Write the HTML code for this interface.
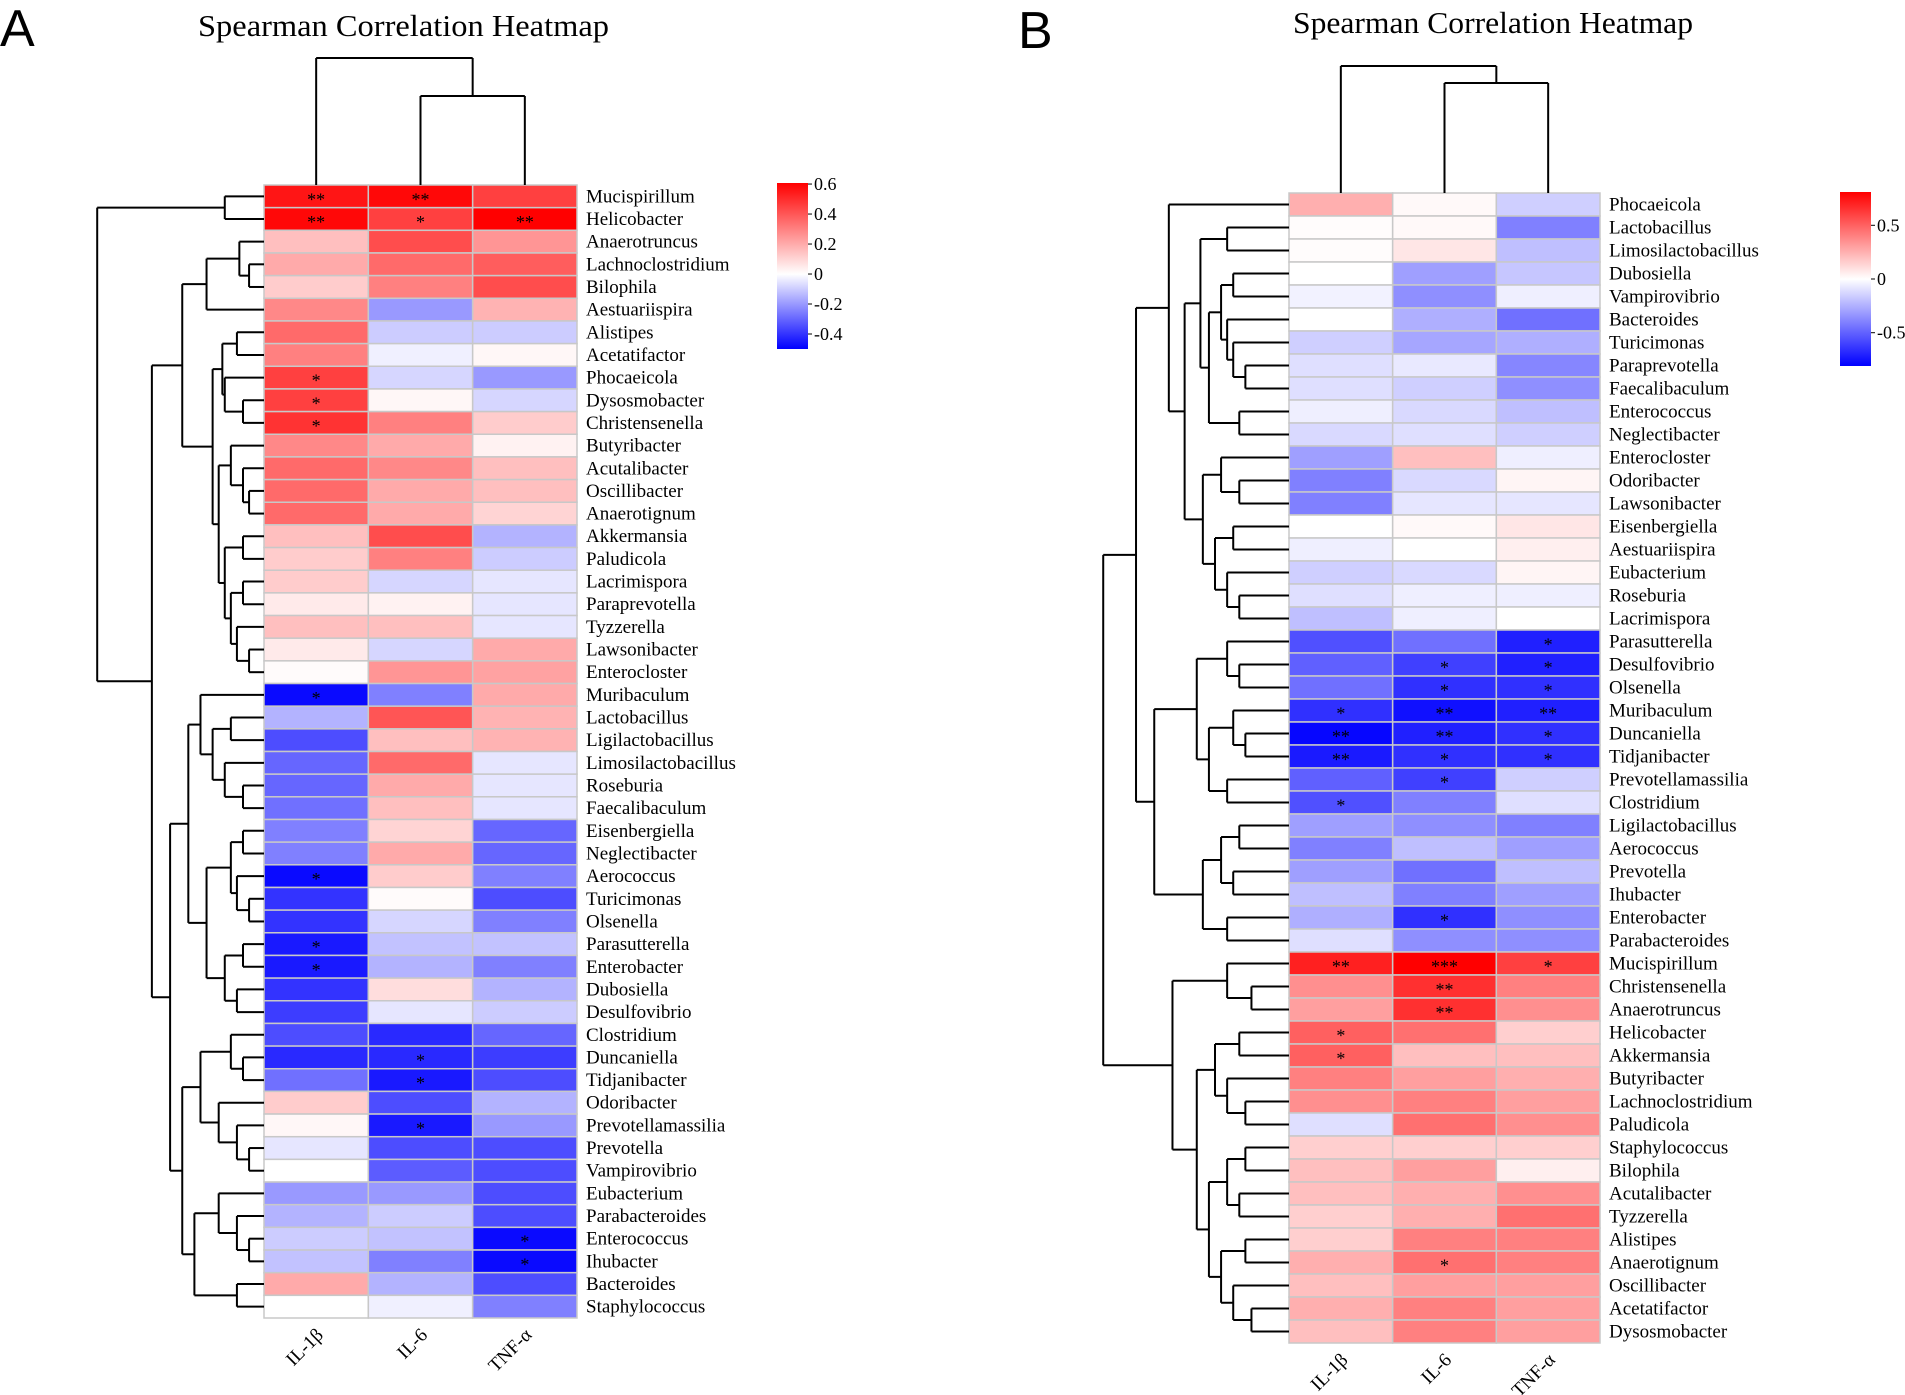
<!DOCTYPE html>
<html><head><meta charset="utf-8"><style>
html,body{margin:0;padding:0;background:#fff;}
svg{display:block;font-family:"Liberation Serif",serif;}
.lbl{font-size:19px;fill:#000;}
.tick{font-size:18px;fill:#000;}
</style></head><body>
<svg id="fig" width="1905" height="1395" viewBox="0 0 1905 1395" xmlns="http://www.w3.org/2000/svg">
<text x="0" y="46" font-family="Liberation Sans, sans-serif" font-size="52">A</text>
<text x="1018" y="48" font-family="Liberation Sans, sans-serif" font-size="52">B</text>
<text x="198" y="36" font-size="31" textLength="411" lengthAdjust="spacingAndGlyphs">Spearman Correlation Heatmap</text>
<text x="1293" y="33" font-size="31" textLength="400" lengthAdjust="spacingAndGlyphs">Spearman Correlation Heatmap</text>
<g id="pa"></g>
<g id="pb"></g>
</svg>
<script>
const cols = ["IL-1β","IL-6","TNF-α"];
const rowsA = ["Mucispirillum","Helicobacter","Anaerotruncus","Lachnoclostridium","Bilophila","Aestuariispira","Alistipes","Acetatifactor","Phocaeicola","Dysosmobacter","Christensenella","Butyribacter","Acutalibacter","Oscillibacter","Anaerotignum","Akkermansia","Paludicola","Lacrimispora","Paraprevotella","Tyzzerella","Lawsonibacter","Enterocloster","Muribaculum","Lactobacillus","Ligilactobacillus","Limosilactobacillus","Roseburia","Faecalibaculum","Eisenbergiella","Neglectibacter","Aerococcus","Turicimonas","Olsenella","Parasutterella","Enterobacter","Dubosiella","Desulfovibrio","Clostridium","Duncaniella","Tidjanibacter","Odoribacter","Prevotellamassilia","Prevotella","Vampirovibrio","Eubacterium","Parabacteroides","Enterococcus","Ihubacter","Bacteroides","Staphylococcus"];
const il1bA = [0.55,0.58,0.15,0.2,0.12,0.28,0.35,0.3,0.45,0.45,0.48,0.28,0.35,0.35,0.35,0.15,0.12,0.12,0.05,0.15,0.05,0.01,-0.48,-0.15,-0.35,-0.3,-0.3,-0.28,-0.25,-0.25,-0.48,-0.4,-0.4,-0.45,-0.45,-0.4,-0.38,-0.35,-0.42,-0.28,0.12,0.02,-0.05,0.0,-0.2,-0.15,-0.1,-0.12,0.2,0.0];
const il6A = [0.58,0.45,0.42,0.35,0.3,-0.2,-0.1,-0.03,-0.08,0.02,0.3,0.2,0.28,0.2,0.2,0.42,0.3,-0.08,0.03,0.15,-0.08,0.25,-0.25,0.4,0.15,0.35,0.2,0.15,0.1,0.2,0.12,0.01,-0.08,-0.12,-0.15,0.08,-0.05,-0.42,-0.42,-0.45,-0.35,-0.45,-0.35,-0.32,-0.2,-0.1,-0.12,-0.25,-0.15,-0.03];
const tnfA = [0.45,0.6,0.25,0.38,0.42,0.18,-0.1,0.02,-0.2,-0.08,0.12,0.03,0.15,0.15,0.1,-0.15,-0.1,-0.05,-0.05,-0.05,0.2,0.22,0.2,0.18,0.18,-0.05,-0.05,-0.05,-0.3,-0.3,-0.25,-0.35,-0.25,-0.12,-0.25,-0.15,-0.1,-0.3,-0.38,-0.35,-0.15,-0.2,-0.35,-0.35,-0.35,-0.35,-0.48,-0.48,-0.35,-0.25];
const starsA = {"0-0":"**","0-1":"**","1-0":"**","1-1":"*","1-2":"**","8-0":"*","9-0":"*","10-0":"*","22-0":"*","30-0":"*","33-0":"*","34-0":"*","38-1":"*","39-1":"*","41-1":"*","46-2":"*","47-2":"*"};
const treeA = [80,[185,0,1],[125,[150,[170,[197,2,[205,3,4]],5],[175,[183,[195,6,7],[185,8,[200,9,10]]],[180,[190,11,[200,12,[205,13,14]]],[185,[200,15,16],[190,[200,17,18],[195,19,[205,20,21]]]]]]],[140,[155,[165,22,[175,[190,23,24],[185,25,[200,26,27]]]],[170,[190,[200,28,29],[195,30,[205,31,32]]],[185,[200,33,34],[195,35,36]]]],[150,[165,[190,37,[200,38,39]],[180,40,[195,41,[205,42,43]]]],[160,[180,44,[195,45,[205,46,47]]],[195,48,49]]]]]];

const rowsB = ["Phocaeicola","Lactobacillus","Limosilactobacillus","Dubosiella","Vampirovibrio","Bacteroides","Turicimonas","Paraprevotella","Faecalibaculum","Enterococcus","Neglectibacter","Enterocloster","Odoribacter","Lawsonibacter","Eisenbergiella","Aestuariispira","Eubacterium","Roseburia","Lacrimispora","Parasutterella","Desulfovibrio","Olsenella","Muribaculum","Duncaniella","Tidjanibacter","Prevotellamassilia","Clostridium","Ligilactobacillus","Aerococcus","Prevotella","Ihubacter","Enterobacter","Parabacteroides","Mucispirillum","Christensenella","Anaerotruncus","Helicobacter","Akkermansia","Butyribacter","Lachnoclostridium","Paludicola","Staphylococcus","Bilophila","Acutalibacter","Tyzzerella","Alistipes","Anaerotignum","Oscillibacter","Acetatifactor","Dysosmobacter"];
const il1bB = [0.25,0.01,0.01,0.0,-0.04,0.0,-0.15,-0.1,-0.1,-0.05,-0.12,-0.3,-0.4,-0.4,0.0,-0.05,-0.15,-0.1,-0.2,-0.55,-0.5,-0.45,-0.65,-0.78,-0.72,-0.5,-0.55,-0.3,-0.4,-0.3,-0.2,-0.25,-0.1,0.7,0.35,0.3,0.5,0.5,0.4,0.35,-0.1,0.15,0.2,0.2,0.15,0.15,0.25,0.2,0.25,0.2];
const il6B = [0.02,0.02,0.08,-0.3,-0.35,-0.25,-0.28,-0.07,-0.15,-0.12,-0.1,0.2,-0.12,-0.08,0.02,0.0,-0.12,-0.05,-0.05,-0.45,-0.6,-0.65,-0.75,-0.7,-0.65,-0.6,-0.4,-0.35,-0.2,-0.45,-0.4,-0.65,-0.35,0.8,0.65,0.65,0.45,0.2,0.3,0.4,0.45,0.15,0.3,0.25,0.25,0.4,0.45,0.3,0.4,0.4];
const tnfB = [-0.15,-0.4,-0.2,-0.18,-0.05,-0.45,-0.25,-0.38,-0.35,-0.2,-0.15,-0.05,0.03,-0.08,0.08,0.05,0.03,-0.05,0.0,-0.7,-0.7,-0.65,-0.7,-0.65,-0.65,-0.15,-0.1,-0.4,-0.3,-0.2,-0.3,-0.35,-0.35,0.6,0.4,0.35,0.15,0.2,0.25,0.3,0.35,0.15,0.05,0.35,0.45,0.4,0.4,0.3,0.3,0.3];
const starsB = {"19-2":"*","20-1":"*","20-2":"*","21-1":"*","21-2":"*","22-0":"*","22-1":"**","22-2":"**","23-0":"**","23-1":"**","23-2":"*","24-0":"**","24-1":"*","24-2":"*","25-1":"*","26-0":"*","31-1":"*","33-0":"**","33-1":"***","33-2":"*","34-1":"**","35-1":"**","36-0":"*","37-0":"*","46-1":"*"};
const treeB = [908,[935,[962,0,[975,[988,[1010,1,2],[995,[1005,[1015,3,4],[1010,5,[1015,6,[1025,7,8]]]],[1020,9,10]]],[990,[1005,11,[1020,12,13]],[1000,[1015,14,15],[1010,16,[1020,17,18]]]]]],[950,[985,[1010,19,[1020,20,21]],[995,[1015,22,[1025,23,24]],[1010,25,26]]],[990,[1005,[1020,27,28],[1015,29,30]],[1010,31,32]]]],[965,[1010,33,[1030,34,35]],[985,[1000,[1020,36,37],[1010,38,[1025,39,40]]],[995,[1010,[1025,41,42],[1020,43,44]],[1005,[1025,45,46],[1015,47,[1030,48,49]]]]]]];
const ticksA = [0.6,0.4,0.2,0,-0.2,-0.4];
const ticksB = [0.5,0,-0.5];

const NS="http://www.w3.org/2000/svg";
function mk(parent,tag,attrs){const e=document.createElementNS(NS,tag);for(const k in attrs)e.setAttribute(k,attrs[k]);parent.appendChild(e);return e;}
function colorOf(v,min,max){
  let r,g,b;
  if(v>=0){const t=Math.min(1,v/max);r=255;g=Math.round(255*(1-t));b=g;}
  else{const t=Math.min(1,v/min);b=255;r=Math.round(255*(1-t));g=r;}
  return `rgb(${r},${g},${b})`;
}
function panel(gid,cfg){
  const g=document.getElementById(gid);
  const n=cfg.rows.length, rh=(cfg.bottom-cfg.top)/n, cw=(cfg.right-cfg.left)/3;
  const xS=i=>cfg.left+i*cw, yS=i=>cfg.top+i*rh;
  const series=[cfg.s1,cfg.s2,cfg.s3];
  for(let r=0;r<n;r++){
    for(let c=0;c<3;c++){
      const rect=mk(g,'rect',{x:xS(c),y:yS(r),width:cw,height:rh,fill:colorOf(series[c][r],cfg.min,cfg.max),stroke:'#c8c8c8','stroke-width':1.5});
      
      
      const s=cfg.stars[r+'-'+c];
      if(s){const t=mk(g,'text',{x:xS(c)+cw/2,y:yS(r)+rh/2+9,'text-anchor':'middle','font-size':18});t.textContent=s;
        
        }
    }
    const lt=mk(g,'text',{x:cfg.right+9,y:yS(r)+rh/2+6,class:'lbl'});lt.textContent=cfg.rows[r];
    
    
  }
  for(let c=0;c<3;c++){
    const cx=xS(c)+cw/2+8, cy=cfg.bottom+18;
    const t=mk(g,'text',{x:cx,y:cy,'text-anchor':'end',class:'lbl',transform:`rotate(-45 ${cx} ${cy})`});t.textContent=cols[c];
    
    
  }
  // row dendrogram
  const line=(x1,y1,x2,y2)=>{const l=mk(g,'line',{x1,y1,x2,y2,stroke:'#000','stroke-width':2});};
  function draw(node){
    if(typeof node==='number')return {x:cfg.left,y:yS(node)+rh/2};
    const x=node[0]*1.215, a=draw(node[1]), b=draw(node[2]);
    line(x,a.y,x,b.y);line(x,a.y,a.x,a.y);line(x,b.y,b.x,b.y);
    return {x,y:(a.y+b.y)/2};
  }
  draw(cfg.tree);
  // column dendrogram
  const c0=xS(0)+cw/2,c1=xS(1)+cw/2,c2=xS(2)+cw/2;
  line(c1,cfg.top,c1,cfg.cd2);line(c2,cfg.top,c2,cfg.cd2);line(c1,cfg.cd2,c2,cfg.cd2);
  const m=(c1+c2)/2;
  line(m,cfg.cd2,m,cfg.cd1);line(c0,cfg.top,c0,cfg.cd1);line(c0,cfg.cd1,m,cfg.cd1);
  // colorbar
  const cb=cfg.cb;
  const defs=mk(g,'defs',{});
  const gr=mk(defs,'linearGradient',{id:gid+'grad',x1:0,y1:0,x2:0,y2:1});
  const zf=(cfg.cbMax)/(cfg.cbMax-cfg.cbMin);
  mk(gr,'stop',{offset:0,'stop-color':'#ff0000'});
  mk(gr,'stop',{offset:zf,'stop-color':'#ffffff'});
  mk(gr,'stop',{offset:1,'stop-color':'#0000ff'});
  const bar=mk(g,'rect',{x:cb.x,y:cb.y0,width:cb.w,height:cb.y1-cb.y0,fill:`url(#${gid}grad)`});
  
  
  const ty=v=>cb.y0+(cfg.cbMax-v)/(cfg.cbMax-cfg.cbMin)*(cb.y1-cb.y0);
  cfg.ticks.forEach(v=>{
    mk(g,'line',{x1:cb.x+cb.w,x2:cb.x+cb.w+4,y1:ty(v),y2:ty(v),stroke:'#000','stroke-width':1});
    const t=mk(g,'text',{x:cb.x+cb.w+6,y:ty(v)+6,class:'tick'});t.textContent=String(v);
    
    
  });
}
panel('pa',{rows:rowsA,s1:il1bA,s2:il6A,s3:tnfA,stars:starsA,tree:treeA,left:264,right:577,top:185,bottom:1318,min:-0.5,max:0.6,cd1:58,cd2:96,cb:{x:777,w:31,y0:183,y1:349},cbMin:-0.5,cbMax:0.607,ticks:ticksA});
panel('pb',{rows:rowsB,s1:il1bB,s2:il6B,s3:tnfB,stars:starsB,tree:treeB,left:1289,right:1600,top:193,bottom:1343,min:-0.8,max:0.8,cd1:66,cd2:83,cb:{x:1840,w:31,y0:192,y1:366},cbMin:-0.81,cbMax:0.81,ticks:ticksB});
</script>
</body></html>
